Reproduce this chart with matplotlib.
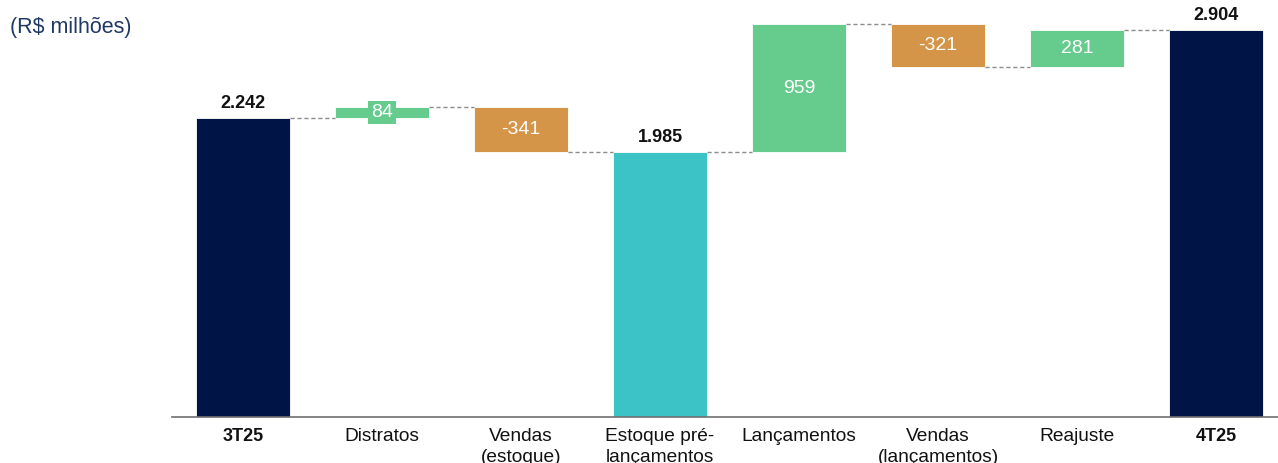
import matplotlib.pyplot as plt

plt.rcParams['font.family'] = ['Liberation Sans', 'DejaVu Sans']

# Dados (R$ milhões)
categorias = ['3T25', 'Distratos', 'Vendas\n(estoque)', 'Estoque pré-\nlançamentos',
              'Lançamentos', 'Vendas\n(lançamentos)', 'Reajuste', '4T25']
valores = [2242, 84, -341, 1985, 959, -321, 281, 2904]
tipos = ['total', 'delta', 'delta', 'subtotal', 'delta', 'delta', 'delta', 'total']
rotulos = ['2.242', '84', '-341', '1.985', '959', '-321', '281', '2.904']

NAVY = '#001446'
GREEN = '#66CC8E'
ORANGE = '#D59549'
TEAL = '#3BC3C5'

fig = plt.figure(figsize=(12.78, 4.63), dpi=100)
ax = fig.add_axes([172 / 1278, 46 / 463, 1 - 172 / 1278, 1 - 46 / 463])

largura = 0.67
nivel = 0
topos = []
for i, (v, t) in enumerate(zip(valores, tipos)):
    if t in ('total', 'subtotal'):
        base, altura = 0, v
        cor = NAVY if t == 'total' else TEAL
        nivel = v
    else:
        base = nivel if v >= 0 else nivel + v
        altura = abs(v)
        cor = GREEN if v >= 0 else ORANGE
        nivel = nivel + v
    ax.bar(i, altura, bottom=base, width=largura, color=cor,
           edgecolor='white', linewidth=0.6)
    topos.append(nivel)

    if t in ('total', 'subtotal'):
        ax.text(i, v + 45, rotulos[i], ha='center', va='bottom',
                fontsize=13, fontweight='bold', color='#111111')
    elif abs(v) < 150:
        ax.text(i, base + altura / 2, rotulos[i], ha='center', va='center',
                fontsize=14, color='white',
                bbox=dict(boxstyle='square,pad=0.15', facecolor=cor, edgecolor='none'))
    else:
        ax.text(i, base + altura / 2, rotulos[i], ha='center', va='center',
                fontsize=14, color='white')

# Linhas de ligação
for i in range(len(valores) - 1):
    ax.plot([i + largura / 2, i + 1 - largura / 2], [topos[i], topos[i]],
            color='#8C8C8C', linestyle=(0, (3, 2)), linewidth=1.0)

ax.set_xlim(-0.511, 7.446)
ax.set_ylim(0, 3126)
ax.set_xticks(range(len(categorias)))
ax.set_xticklabels(categorias, fontsize=13.8, color='#111111', linespacing=1.3)
for i, lbl in enumerate(ax.get_xticklabels()):
    if tipos[i] == 'total':
        lbl.set_fontweight('bold')
        lbl.set_fontsize(13)
ax.tick_params(axis='x', length=0, pad=8)
ax.set_yticks([])
for s in ['top', 'right', 'left']:
    ax.spines[s].set_visible(False)
ax.spines['bottom'].set_color('#707070')
ax.spines['bottom'].set_linewidth(1.2)

fig.text(10 / 1278, 1 - 28 / 463, '(R$ milhões)', fontsize=15.5, color='#1F3864',
         ha='left', va='center')

fig.savefig('out.png', dpi=100)
